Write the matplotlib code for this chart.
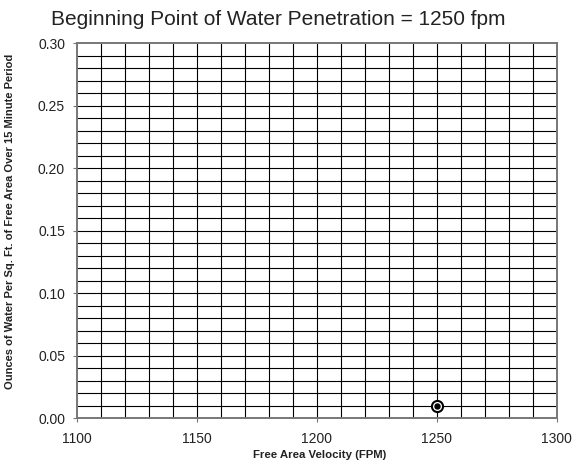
import numpy as np
import matplotlib
matplotlib.use("Agg")
import matplotlib.pyplot as plt

plt.rcParams['font.family'] = ['Liberation Sans', 'DejaVu Sans']

# Data
velocity = [1250]
ounces = [0.01]
x_ticks = [1100, 1150, 1200, 1250, 1300]
y_ticks = [0.00, 0.05, 0.10, 0.15, 0.20, 0.25, 0.30]

fig = plt.figure(figsize=(5.78, 4.63), dpi=100)
ax = fig.add_axes([0.133, 0.097, 0.830, 0.810])

ax.set_xlim(1100, 1300)
ax.set_ylim(0, 0.30)

# grid lines every 10 fpm and 0.01 oz
for gx in np.arange(1110, 1300, 10):
    ax.axvline(gx, color='black', lw=0.8, zorder=1)
for gy in np.arange(0.01, 0.3, 0.01):
    ax.axhline(gy, color='black', lw=0.8, zorder=1)

ax.plot(velocity, ounces, 'o', ms=8, mfc='white', mec='black', mew=1.5, zorder=3)
ax.plot(velocity, ounces, 'o', ms=3.6, color='black', zorder=4)

ax.set_xticks(x_ticks)
ax.set_yticks(y_ticks)
ax.set_yticklabels([f"{v:.2f}" for v in y_ticks])
ax.tick_params(direction='out', length=3, color='#777777', labelsize=10,
               labelcolor='#222222')
ax.tick_params(axis='x', pad=7)
ax.tick_params(axis='y', pad=5.5)

for side in ax.spines:
    ax.spines[side].set_color('#777777')
    ax.spines[side].set_linewidth(1.4)

fig.text(0.481, 1 - 25 / 463, "Beginning Point of Water Penetration = 1250 fpm",
         fontsize=15, ha='center', va='baseline', color='#222222')
ax.set_xlabel("Free Area Velocity (FPM)", fontsize=8.2, fontweight='bold',
              color='#222222')
ax.xaxis.set_label_coords(0.506, -0.085)
ax.set_ylabel("Ounces of Water Per Sq. Ft. of Free Area Over 15 Minute Period",
              fontsize=8.0, fontweight='bold', color='#222222')
ax.yaxis.set_label_coords(-0.128, 0.525)

fig.savefig("out.png", dpi=100)
